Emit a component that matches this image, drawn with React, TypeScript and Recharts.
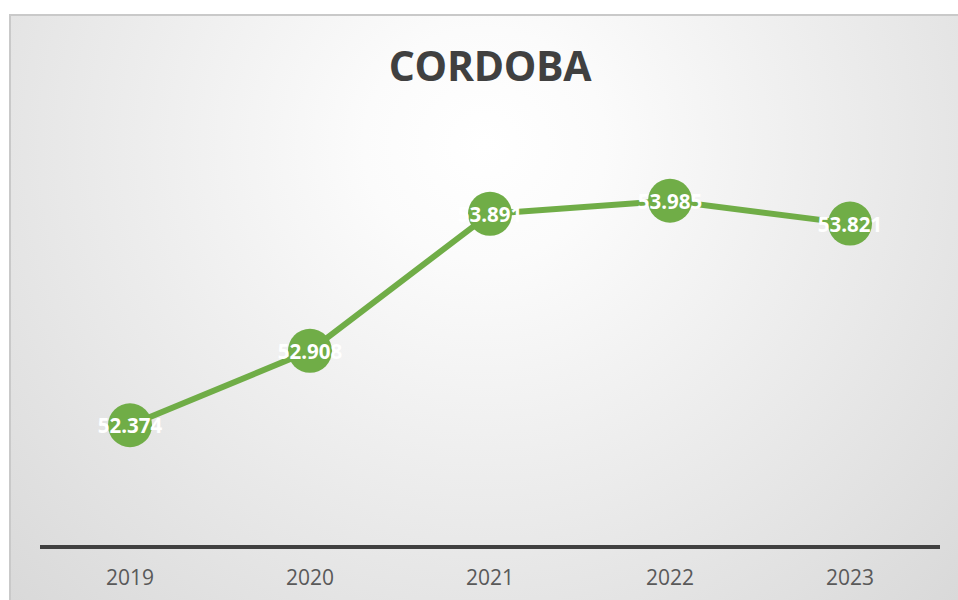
import React from "react";
import { LineChart, Line, XAxis, YAxis, LabelList } from "recharts";

const years = ["2019", "2020", "2021", "2022", "2023"];
const values = [52.374, 52.908, 53.891, 53.985, 53.821];
const labels = ["52.374", "52.908", "53.891", "53.985", "53.821"];
const title = "CORDOBA";

const data = years.map((y, i) => ({ year: y, value: values[i], label: labels[i] }));

const GREEN = "#70AD47";
const FONT = "'Open Sans', 'Noto Sans', sans-serif";

const renderLabel = (props: any) => {
  const { x, y, value } = props;
  return (
    <text
      x={x}
      y={y}
      textAnchor="middle"
      dominantBaseline="central"
      fill="#ffffff"
      fontFamily={FONT}
      fontWeight={700}
      fontSize={20.5}
    >
      {value}
    </text>
  );
};

export default function App() {
  return (
    <div style={{ position: "absolute", left: 0, top: 0, width: 958, height: 600, overflow: "hidden" }}>
      <div
        style={{
          position: "absolute",
          left: 9,
          top: 14,
          width: 949,
          height: 586,
          boxSizing: "border-box",
          borderTop: "2px solid #c9c9c9",
          borderLeft: "2px solid #c9c9c9",
          background:
            "radial-gradient(ellipse farthest-corner at 50% 22%, #ffffff 0%, #fbfbfb 18%, #d9d9d9 100%)",
        }}
      />
      <svg
        width={958}
        height={600}
        style={{ position: "absolute", left: 0, top: 0 }}
      >
        <text
          x={490}
          y={81}
          textAnchor="middle"
          fill="#404040"
          fontFamily={FONT}
          fontWeight={700}
          fontSize={41}
          letterSpacing={-0.3}
        >
          {title}
        </text>
      </svg>
      <div style={{ position: "absolute", left: 0, top: 0 }}>
        <LineChart
          width={958}
          height={600}
          data={data}
          margin={{ top: 129, right: 18, bottom: 0, left: 40 }}
        >
          <XAxis
            dataKey="year"
            height={53}
            padding={{ left: 90, right: 90 }}
            axisLine={{ stroke: "#404040", strokeWidth: 4 }}
            tickLine={false}
            tickSize={6}
            tickMargin={17}
            tick={{ fill: "#595959", fontSize: 21, fontFamily: FONT }}
          />
          <YAxis hide domain={[51.5, 54.5]} />
          <Line
            dataKey="value"
            stroke={GREEN}
            strokeWidth={6}
            isAnimationActive={false}
            dot={{ r: 22, fill: GREEN, stroke: GREEN, strokeWidth: 0 }}
            activeDot={false}
          >
            <LabelList dataKey="label" content={renderLabel} />
          </Line>
        </LineChart>
      </div>
    </div>
  );
}
